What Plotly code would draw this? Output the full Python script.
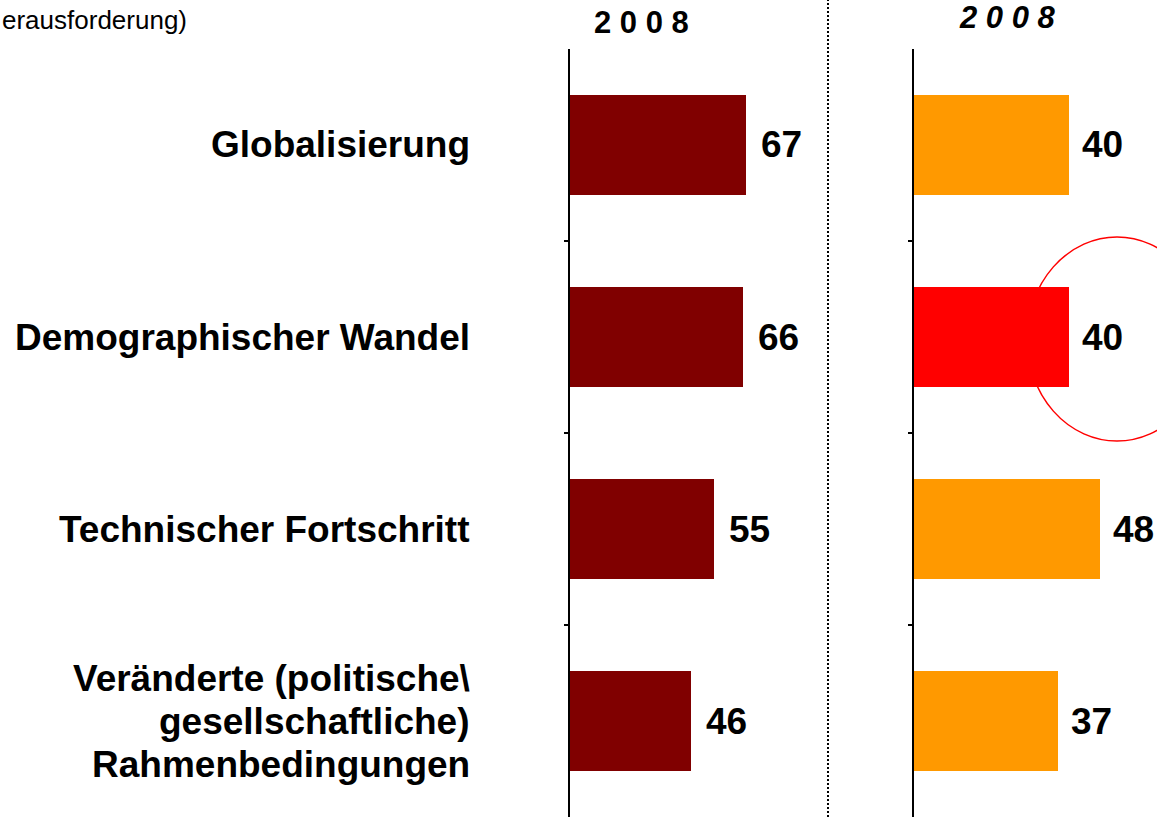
import plotly.graph_objects as go

W, H = 1157, 817

categories = ["Globalisierung", "Demographischer Wandel", "Technischer Fortschritt",
              "Veränderte (politische\\<br>gesellschaftliche)<br>Rahmenbedingungen"]
values_left = [67, 66, 55, 46]
values_right = [40, 40, 48, 37]
colors_left = ["#800000", "#800000", "#800000", "#800000"]
colors_right = ["#FF9900", "#FF0000", "#FF9900", "#FF9900"]
header_left = "2 0 0 8"
header_right = "2 0 0 8"
title_text = "erausforderung)"

pos = list(range(len(categories)))
FONT = "Liberation Sans, Arial, sans-serif"

fig = go.Figure()
fig.add_trace(go.Bar(y=pos, x=values_left, orientation="h", width=0.525,
                     marker=dict(color=colors_left, line=dict(width=0)),
                     xaxis="x", yaxis="y", hoverinfo="skip", showlegend=False))
fig.add_trace(go.Bar(y=pos, x=values_right, orientation="h", width=0.525,
                     marker=dict(color=colors_right, line=dict(width=0)),
                     xaxis="x2", yaxis="y2", hoverinfo="skip", showlegend=False))

annotations = []
# value labels
for p, v in zip(pos, values_left):
    annotations.append(dict(x=v, y=p, xref="x", yref="y", text=f"<b>{v}</b>", showarrow=False,
                            xanchor="left", yanchor="middle", xshift=13,
                            font=dict(family=FONT, size=37, color="black")))
for p, v in zip(pos, values_right):
    annotations.append(dict(x=v, y=p, xref="x2", yref="y2", text=f"<b>{v}</b>", showarrow=False,
                            xanchor="left", yanchor="middle", xshift=11,
                            font=dict(family=FONT, size=37, color="black")))
# category labels (right aligned, one annotation per line)
for p, c in zip(pos, categories):
    lines = c.split("<br>")
    n = len(lines)
    for i, ln in enumerate(lines):
        annotations.append(dict(x=472 / W, y=p, xref="paper", yref="y", text=f"<b>{ln}</b>",
                                showarrow=False, xanchor="right", yanchor="middle",
                                yshift=-(i - (n - 1) / 2) * 43,
                                font=dict(family=FONT, size=37, color="black")))
# headers
annotations.append(dict(x=641 / W, y=1 - 23 / H, xref="paper", yref="paper", text=f"<b>{header_left}</b>",
                        showarrow=False, xanchor="center", yanchor="middle",
                        font=dict(family=FONT, size=31, color="black")))
annotations.append(dict(x=1007 / W, y=1 - 18 / H, xref="paper", yref="paper", text=f"<b><i>{header_right}</i></b>",
                        showarrow=False, xanchor="center", yanchor="middle",
                        font=dict(family=FONT, size=31, color="black")))
annotations.append(dict(x=0, y=1 - 20 / H, xref="paper", yref="paper", text=title_text,
                        showarrow=False, xanchor="left", yanchor="middle",
                        font=dict(family=FONT, size=26, color="black")))

shapes = [
    dict(type="line", xref="paper", yref="paper", x0=828 / W, x1=828 / W, y0=0, y1=1,
         line=dict(color="black", width=2, dash="2px,2px")),
    dict(type="circle", xref="paper", yref="paper", x0=1027 / W, x1=1207 / W,
         y0=1 - 441 / H, y1=1 - 237 / H, line=dict(color="#FF0000", width=1.5)),
]

yax = dict(range=[3.5, -0.5], domain=[0, 1 - 49 / H], showgrid=False, zeroline=False,
           showline=True, linecolor="black", linewidth=2,
           tickmode="array", tickvals=[0.5, 1.5, 2.5], ticks="outside", ticklen=4,
           tickwidth=1.5, tickcolor="black", showticklabels=False)

fig.update_layout(
    width=W, height=H, margin=dict(l=0, r=0, t=0, b=0),
    paper_bgcolor="white", plot_bgcolor="rgba(0,0,0,0)",
    xaxis=dict(domain=[570 / W, 832 / W], range=[0, 100], visible=False, anchor="y"),
    xaxis2=dict(domain=[914 / W, 1147 / W], range=[0, 60], visible=False, anchor="y2"),
    yaxis=dict(anchor="x", **yax),
    yaxis2=dict(anchor="x2", **yax),
    annotations=annotations, shapes=shapes, bargap=0,
)

fig.write_html("out.html", config={"displayModeBar": False},
               post_script="document.body.style.margin='0';document.body.style.overflow='hidden';")
